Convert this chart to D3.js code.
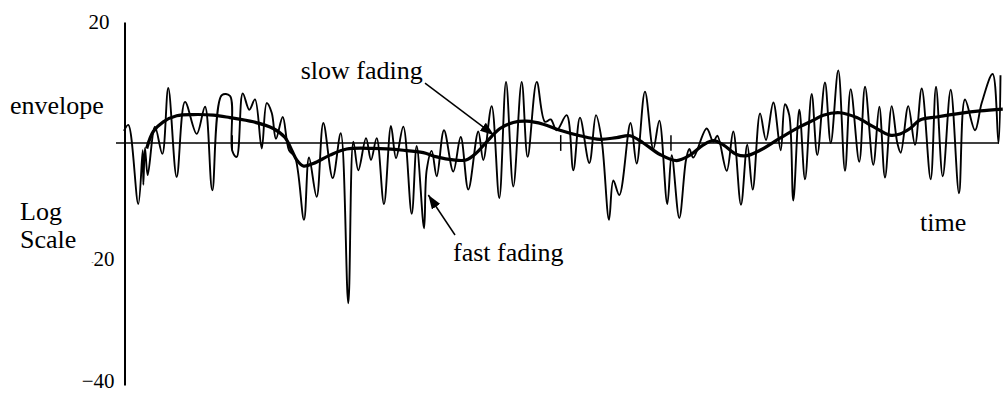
<!DOCTYPE html>
<html>
<head>
<meta charset="utf-8">
<script src="https://cdn.jsdelivr.net/npm/d3@7"></script>
<style>
  html, body { margin: 0; padding: 0; background: #fff; }
  svg { display: block; }
  text { font-family: "Liberation Serif", "Times New Roman", serif; fill: #000; }
</style>
</head>
<body>
<svg id="chart" width="1003" height="394"></svg>
<script>
// Received level (dB) against time, in arbitrary time units 0..100.
const yTicks = [20, -20, -40];

// Fast (multipath) fading: [time, level dB]
const fastFading = [
  [0, 2.0], [0.49, 3.0], [1.63, -10.1], [2.14, -1.2], [2.21, -6.9], [2.4, -0.8], [2.71, -5.3],
  [3.54, 2.7], [4.38, -1.8], [5.06, 9.1], [6.02, -5.6], [6.97, 6.8], [8.31, 1.5], [9.26, 6.0],
  [10.09, -7.8], [11.17, 7.9], [12.11, 7.8], [12.38, -1.3], [12.88, -2.3], [13.57, 8.2],
  [14.32, 5.5], [14.97, 7.2], [15.74, -0.9], [16.31, 6.6], [16.88, 5.0], [17.37, 0.7],
  [18.14, 4.3], [18.86, -1.2], [19.54, -2.3], [20.57, -12.7], [21.14, -2.4], [22.02, -8.9],
  [22.78, 3.3], [23.85, -5.8], [24.77, 1.6], [25.63, -26.5], [26.21, 0.2], [26.78, -4.5],
  [27.66, 0.8], [28.23, -2.8], [28.88, 0.8], [29.71, -10.1], [30.51, 2.8], [31.09, -2.5],
  [31.92, 2.7], [32.88, -11.7], [33.45, -0.5], [34.29, -14.1], [34.59, -4.5], [35.17, -1.3],
  [35.74, -5.5], [36.57, 2.1], [37.63, -4.7], [38.48, 1.0], [39.35, -7.7], [40.49, 1.9],
  [41.06, -2.8], [42.02, 6.1], [42.89, -9.1], [43.66, 10.1], [44.49, -7.2], [45.45, 10.1],
  [46.13, -2.3], [47.17, 10.1], [48.11, 3.5], [48.77, 3.9], [49.45, 2.1], [50.59, 4.6],
  [51.35, -4.5], [52.11, 4.2], [53.18, -3.3], [53.94, 4.6], [54.59, 0.5], [55.43, -12.7],
  [55.92, -6.2], [56.61, -8.6], [57.89, 3.3], [58.59, -3.4], [59.54, 8.5], [60.49, -1.0],
  [61.18, 3.7], [62.09, -10.1], [62.59, -2.0], [63.46, -12.4], [64.23, -2.8], [64.61, -1.0],
  [65.06, -2.4], [66.59, 2.4], [67.35, 0.2], [67.81, 1.2], [68.88, -4.6], [69.63, 1.9],
  [70.51, -10.2], [71.23, -0.3], [71.85, -7.7], [72.69, 4.9], [73.37, 0.5], [74.21, 6.7],
  [75.05, -1.2], [75.54, 6.4], [76.03, 4.6], [76.49, -9.5], [77.18, 5.5], [77.83, -6.0],
  [78.59, 8.1], [79.23, -2.0], [80.11, 10.0], [80.77, 0.0], [81.63, 12.0], [82.4, -4.6],
  [83.05, 8.9], [84.03, -3.1], [84.69, 9.3], [85.63, -3.6], [86.32, 6.0], [86.97, -5.7],
  [87.74, 6.1], [88.38, 0.0], [88.77, -1.6], [89.63, 6.1], [90.4, -0.3], [91.17, 9.0],
  [92.19, -6.0], [92.8, 9.3], [93.57, -5.5], [94.48, 8.8], [95.43, -8.3], [96.11, 7.2],
  [97.26, 2.1], [98.02, 6.6], [99.27, 11.4], [99.94, 0.0], [100.17, 11.2]
];

// Short vertical strokes where recorded segments join: [time, top dB, bottom dB]
const segmentJoins = [[12.37, 1.3, -1.3], [49.91, 1.3, -1.3], [62.51, 1.3, -1.3]];

// Slow (shadowing) fading, the local mean envelope: [time, level dB]
const slowFading = [
  [2.59, -0.9], [3.35, 1.9], [4.49, 3.5], [6.02, 4.5], [7.92, 4.7], [10.21, 4.6], [12.11, 4.2],
  [14.78, 3.5], [17.06, 2.4], [18.4, 0.9], [19.17, -1.2], [19.74, -2.8], [20.49, -3.8],
  [21.63, -3.4], [23.54, -2.0], [25.45, -1.0], [28.49, -0.9], [31.92, -1.2], [34.21, -1.6],
  [35.74, -2.3], [37.63, -2.8], [39.09, -2.8], [40.23, -1.7], [41.45, 0.2], [42.97, 2.4],
  [44.49, 3.4], [46.02, 3.6], [47.92, 3.1], [49.83, 2.1], [52.11, 1.2], [54.4, 0.6],
  [56.31, 0.9], [57.83, 1.2], [59.35, 0.0], [61.26, -1.9], [63.17, -2.9], [64.69, -2.0],
  [66.21, -0.3], [67.35, 0.4], [68.49, -0.3], [70.02, -1.9], [71.17, -2.1], [72.69, -1.2],
  [74.97, 0.8], [77.26, 2.7], [78.97, 3.9], [79.92, 4.6], [81.83, 5.0], [83.74, 4.2],
  [85.63, 2.7], [87.54, 1.3], [88.69, 1.5], [89.83, 2.4], [90.97, 3.8], [92.88, 4.3],
  [95.54, 4.9], [97.83, 5.3], [100.43, 5.6]
];

// Callouts: label, label anchor [time, dB], arrow start [time, dB], arrow tip [time, dB]
const callouts = [
  { label: "slow fading", at: [20.2, 10.5], from: [34.4, 9.9], to: [42.29, 1.3] },
  { label: "fast fading", at: [37.6, -19.5], from: [37.83, -15.2], to: [34.78, -8.6] }
];

const svg = d3.select("#chart");

const x = d3.scaleLinear().domain([0, 100]).range([124, 999]);
const y = d3.scaleLinear().domain([-40, 20]).range([385, 22]);

// Arrowhead marker
svg.append("defs").append("marker")
  .attr("id", "arrow")
  .attr("viewBox", "0 0 14 10")
  .attr("refX", 14).attr("refY", 5)
  .attr("markerUnits", "userSpaceOnUse")
  .attr("markerWidth", 14).attr("markerHeight", 10)
  .attr("orient", "auto")
  .append("path")
  .attr("d", "M0,0 L14,5 L0,10 Z")
  .attr("fill", "#000");

// Zero-level time axis
svg.append("line")
  .attr("x1", x(0) - 8).attr("x2", x(100))
  .attr("y1", y(0)).attr("y2", y(0))
  .attr("stroke", "#000").attr("stroke-width", 1.5);

// Vertical level axis
const yAxis = svg.append("g")
  .attr("transform", `translate(${x(0) + 0.5},0)`)
  .call(d3.axisLeft(y).tickValues(yTicks).tickSize(0).tickPadding(10)
    .tickFormat(d => d < 0 ? "\u2212" + Math.abs(d) : String(d)));
yAxis.select(".domain").attr("stroke", "#000").attr("stroke-width", 2);
yAxis.selectAll(".tick text")
  .attr("font-family", "Liberation Serif, Times New Roman, serif")
  .attr("font-size", 21)
  .attr("fill", "#000");
yAxis.selectAll(".tick").filter(d => d === 20).select("text").attr("dx", -5);
yAxis.selectAll(".tick").filter(d => d === -40).select("text").attr("dy", "0.1em");
// the -20 label prints its minus sign as a faint speck
yAxis.selectAll(".tick").filter(d => d === -20).select("text")
  .text(null)
  .call(t => {
    t.append("tspan").attr("font-size", 6).attr("dy", "-0.1em").text("-");
    t.append("tspan").attr("dy", "0.1em").text("20");
  });

// Fast fading trace
const line = d3.line()
  .x(d => x(d[0]))
  .y(d => y(d[1]))
  .curve(d3.curveCatmullRom.alpha(0.5));

svg.append("path")
  .datum(fastFading)
  .attr("d", line)
  .attr("fill", "none")
  .attr("stroke", "#000")
  .attr("stroke-width", 1.9)
  .attr("stroke-linejoin", "round");

svg.selectAll("line.join")
  .data(segmentJoins)
  .join("line")
  .attr("class", "join")
  .attr("x1", d => x(d[0])).attr("x2", d => x(d[0]))
  .attr("y1", d => y(d[1])).attr("y2", d => y(d[2]))
  .attr("stroke", "#000").attr("stroke-width", 1.5);

// Slow fading envelope
svg.append("path")
  .datum(slowFading)
  .attr("d", line)
  .attr("fill", "none")
  .attr("stroke", "#000")
  .attr("stroke-width", 3.2)
  .attr("stroke-linejoin", "round");

// Callout labels and arrows
callouts.forEach(c => {
  svg.append("line")
    .attr("x1", x(c.from[0])).attr("y1", y(c.from[1]))
    .attr("x2", x(c.to[0])).attr("y2", y(c.to[1]))
    .attr("stroke", "#000").attr("stroke-width", 1.5)
    .attr("marker-end", "url(#arrow)");
  svg.append("text")
    .attr("x", x(c.at[0])).attr("y", y(c.at[1]))
    .attr("font-size", 26)
    .text(c.label);
});

// Axis captions
svg.append("text").attr("x", 10).attr("y", 114).attr("font-size", 26).text("envelope");
svg.append("text").attr("x", 20).attr("y", 220).attr("font-size", 26).text("Log");
svg.append("text").attr("x", 20).attr("y", 248).attr("font-size", 26).text("Scale");
svg.append("text").attr("x", 920).attr("y", 231).attr("font-size", 26).text("time");
</script>
</body>
</html>
